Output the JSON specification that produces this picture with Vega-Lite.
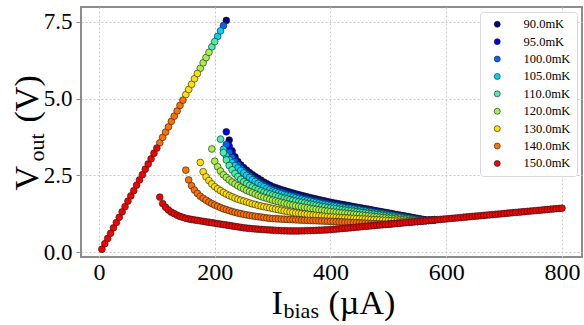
{
"$schema":"https://vega.github.io/schema/vega-lite/v6.json",
"width":501,"height":250,
"autosize":{"type":"none"},
"padding":{"left":81,"top":7,"right":2,"bottom":68},
"background":"white",
"config":{
"view":{"stroke":"#8c8c8c","strokeWidth":2},
"axis":{"labelFont":"Liberation Serif","titleFont":"Liberation Serif","labelColor":"black","titleColor":"black","titleFontWeight":"normal"},
"legend":{"orient":"top-right","offset":5,"padding":6,"symbolOffset":5,"labelOffset":20,"labelFont":"Liberation Serif","labelFontSize":12.5,"labelColor":"black","symbolSize":36,"symbolStrokeWidth":0.6,"symbolStrokeColor":"#1a1a1a","symbolType":"circle","rowPadding":4.4,"strokeColor":"#d9d9d9","fillColor":"white","cornerRadius":3}
},
"data":{"values":[
{"t":90,"i":220,"v":7.55},{"t":90,"i":225,"v":3.65},{"t":90,"i":230,"v":3.30},{"t":90,"i":235,"v":3.10},{"t":90,"i":240,"v":2.95},{"t":90,"i":245,"v":2.84},{"t":90,"i":250,"v":2.75},{"t":90,"i":255,"v":2.67},{"t":90,"i":260,"v":2.59},{"t":90,"i":265,"v":2.52},{"t":90,"i":270,"v":2.46},{"t":90,"i":275,"v":2.40},{"t":90,"i":280,"v":2.34},{"t":90,"i":285,"v":2.28},{"t":90,"i":290,"v":2.23},{"t":90,"i":295,"v":2.18},{"t":90,"i":300,"v":2.13},{"t":90,"i":305,"v":2.098},{"t":90,"i":310,"v":2.067},{"t":90,"i":315,"v":2.035},{"t":90,"i":320,"v":2.005},{"t":90,"i":325,"v":1.976},{"t":90,"i":330,"v":1.948},{"t":90,"i":335,"v":1.92},{"t":90,"i":340,"v":1.894},{"t":90,"i":345,"v":1.869},{"t":90,"i":350,"v":1.845},{"t":90,"i":355,"v":1.82},{"t":90,"i":360,"v":1.797},{"t":90,"i":365,"v":1.774},{"t":90,"i":370,"v":1.752},{"t":90,"i":375,"v":1.729},{"t":90,"i":380,"v":1.707},{"t":90,"i":385,"v":1.685},{"t":90,"i":390,"v":1.663},{"t":90,"i":395,"v":1.641},{"t":90,"i":400,"v":1.622},{"t":90,"i":405,"v":1.605},{"t":90,"i":410,"v":1.588},{"t":90,"i":415,"v":1.569},{"t":90,"i":420,"v":1.552},{"t":90,"i":425,"v":1.535},{"t":90,"i":430,"v":1.518},{"t":90,"i":435,"v":1.499},{"t":90,"i":440,"v":1.482},{"t":90,"i":445,"v":1.465},{"t":90,"i":450,"v":1.448},{"t":90,"i":455,"v":1.429},{"t":90,"i":460,"v":1.412},{"t":90,"i":465,"v":1.395},{"t":90,"i":470,"v":1.378},{"t":90,"i":475,"v":1.36},{"t":90,"i":480,"v":1.342},{"t":90,"i":485,"v":1.325},{"t":90,"i":490,"v":1.308},{"t":90,"i":495,"v":1.29},{"t":90,"i":500,"v":1.272},{"t":90,"i":505,"v":1.255},{"t":90,"i":510,"v":1.238},{"t":90,"i":515,"v":1.22},{"t":90,"i":520,"v":1.202},{"t":90,"i":525,"v":1.185},{"t":90,"i":530,"v":1.168},{"t":90,"i":535,"v":1.15},{"t":90,"i":540,"v":1.132},{"t":90,"i":545,"v":1.115},{"t":90,"i":550,"v":1.098},{"t":90,"i":555,"v":1.08},{"t":90,"i":560,"v":1.062},{"t":90,"i":565,"v":1.045},{"t":90,"i":570,"v":1.033},{"t":90,"i":575,"v":1.041},{"t":90,"i":580,"v":1.05},
{"t":95,"i":220,"v":3.92},{"t":95,"i":225,"v":3.45},{"t":95,"i":230,"v":3.20},{"t":95,"i":235,"v":3.03},{"t":95,"i":240,"v":2.90},{"t":95,"i":245,"v":2.79},{"t":95,"i":250,"v":2.70},{"t":95,"i":255,"v":2.62},{"t":95,"i":260,"v":2.54},{"t":95,"i":265,"v":2.47},{"t":95,"i":270,"v":2.40},{"t":95,"i":275,"v":2.34},{"t":95,"i":280,"v":2.28},{"t":95,"i":285,"v":2.23},{"t":95,"i":290,"v":2.18},{"t":95,"i":295,"v":2.13},{"t":95,"i":300,"v":2.09},{"t":95,"i":305,"v":2.058},{"t":95,"i":310,"v":2.028},{"t":95,"i":315,"v":1.997},{"t":95,"i":320,"v":1.967},{"t":95,"i":325,"v":1.939},{"t":95,"i":330,"v":1.911},{"t":95,"i":335,"v":1.884},{"t":95,"i":340,"v":1.859},{"t":95,"i":345,"v":1.834},{"t":95,"i":350,"v":1.81},{"t":95,"i":355,"v":1.786},{"t":95,"i":360,"v":1.764},{"t":95,"i":365,"v":1.741},{"t":95,"i":370,"v":1.719},{"t":95,"i":375,"v":1.698},{"t":95,"i":380,"v":1.676},{"t":95,"i":385,"v":1.654},{"t":95,"i":390,"v":1.633},{"t":95,"i":395,"v":1.612},{"t":95,"i":400,"v":1.593},{"t":95,"i":405,"v":1.577},{"t":95,"i":410,"v":1.56},{"t":95,"i":415,"v":1.542},{"t":95,"i":420,"v":1.525},{"t":95,"i":425,"v":1.509},{"t":95,"i":430,"v":1.492},{"t":95,"i":435,"v":1.474},{"t":95,"i":440,"v":1.458},{"t":95,"i":445,"v":1.441},{"t":95,"i":450,"v":1.424},{"t":95,"i":455,"v":1.407},{"t":95,"i":460,"v":1.39},{"t":95,"i":465,"v":1.373},{"t":95,"i":470,"v":1.357},{"t":95,"i":475,"v":1.339},{"t":95,"i":480,"v":1.322},{"t":95,"i":485,"v":1.306},{"t":95,"i":490,"v":1.289},{"t":95,"i":495,"v":1.271},{"t":95,"i":500,"v":1.254},{"t":95,"i":505,"v":1.238},{"t":95,"i":510,"v":1.221},{"t":95,"i":515,"v":1.203},{"t":95,"i":520,"v":1.187},{"t":95,"i":525,"v":1.17},{"t":95,"i":530,"v":1.153},{"t":95,"i":535,"v":1.136},{"t":95,"i":540,"v":1.119},{"t":95,"i":545,"v":1.102},{"t":95,"i":550,"v":1.086},{"t":95,"i":555,"v":1.068},{"t":95,"i":560,"v":1.051},{"t":95,"i":565,"v":1.034},{"t":95,"i":570,"v":1.036},{"t":95,"i":575,"v":1.043},{"t":95,"i":580,"v":1.052},
{"t":100,"i":215,"v":7.38},{"t":100,"i":220,"v":3.50},{"t":100,"i":225,"v":3.25},{"t":100,"i":230,"v":3.08},{"t":100,"i":235,"v":2.95},{"t":100,"i":240,"v":2.84},{"t":100,"i":245,"v":2.73},{"t":100,"i":250,"v":2.64},{"t":100,"i":255,"v":2.56},{"t":100,"i":260,"v":2.49},{"t":100,"i":265,"v":2.42},{"t":100,"i":270,"v":2.35},{"t":100,"i":275,"v":2.29},{"t":100,"i":280,"v":2.23},{"t":100,"i":285,"v":2.18},{"t":100,"i":290,"v":2.13},{"t":100,"i":295,"v":2.08},{"t":100,"i":300,"v":2.04},{"t":100,"i":305,"v":2.009},{"t":100,"i":310,"v":1.979},{"t":100,"i":315,"v":1.949},{"t":100,"i":320,"v":1.92},{"t":100,"i":325,"v":1.892},{"t":100,"i":330,"v":1.865},{"t":100,"i":335,"v":1.839},{"t":100,"i":340,"v":1.814},{"t":100,"i":345,"v":1.79},{"t":100,"i":350,"v":1.767},{"t":100,"i":355,"v":1.744},{"t":100,"i":360,"v":1.722},{"t":100,"i":365,"v":1.70},{"t":100,"i":370,"v":1.678},{"t":100,"i":375,"v":1.657},{"t":100,"i":380,"v":1.636},{"t":100,"i":385,"v":1.615},{"t":100,"i":390,"v":1.594},{"t":100,"i":395,"v":1.574},{"t":100,"i":400,"v":1.556},{"t":100,"i":405,"v":1.54},{"t":100,"i":410,"v":1.524},{"t":100,"i":415,"v":1.507},{"t":100,"i":420,"v":1.491},{"t":100,"i":425,"v":1.475},{"t":100,"i":430,"v":1.459},{"t":100,"i":435,"v":1.442},{"t":100,"i":440,"v":1.426},{"t":100,"i":445,"v":1.41},{"t":100,"i":450,"v":1.394},{"t":100,"i":455,"v":1.377},{"t":100,"i":460,"v":1.361},{"t":100,"i":465,"v":1.345},{"t":100,"i":470,"v":1.329},{"t":100,"i":475,"v":1.312},{"t":100,"i":480,"v":1.296},{"t":100,"i":485,"v":1.28},{"t":100,"i":490,"v":1.264},{"t":100,"i":495,"v":1.247},{"t":100,"i":500,"v":1.23},{"t":100,"i":505,"v":1.214},{"t":100,"i":510,"v":1.198},{"t":100,"i":515,"v":1.181},{"t":100,"i":520,"v":1.165},{"t":100,"i":525,"v":1.149},{"t":100,"i":530,"v":1.133},{"t":100,"i":535,"v":1.116},{"t":100,"i":540,"v":1.10},{"t":100,"i":545,"v":1.084},{"t":100,"i":550,"v":1.068},{"t":100,"i":555,"v":1.051},{"t":100,"i":560,"v":1.035},{"t":100,"i":565,"v":1.025},{"t":100,"i":570,"v":1.034},{"t":100,"i":575,"v":1.042},{"t":100,"i":580,"v":1.051},
{"t":105,"i":205,"v":7.03},{"t":105,"i":210,"v":7.21},{"t":105,"i":215,"v":3.35},{"t":105,"i":220,"v":3.14},{"t":105,"i":225,"v":3.01},{"t":105,"i":230,"v":2.91},{"t":105,"i":235,"v":2.82},{"t":105,"i":240,"v":2.74},{"t":105,"i":245,"v":2.66},{"t":105,"i":250,"v":2.58},{"t":105,"i":255,"v":2.50},{"t":105,"i":260,"v":2.43},{"t":105,"i":265,"v":2.36},{"t":105,"i":270,"v":2.30},{"t":105,"i":275,"v":2.24},{"t":105,"i":280,"v":2.18},{"t":105,"i":285,"v":2.13},{"t":105,"i":290,"v":2.08},{"t":105,"i":295,"v":2.03},{"t":105,"i":300,"v":1.99},{"t":105,"i":305,"v":1.96},{"t":105,"i":310,"v":1.93},{"t":105,"i":315,"v":1.901},{"t":105,"i":320,"v":1.873},{"t":105,"i":325,"v":1.845},{"t":105,"i":330,"v":1.819},{"t":105,"i":335,"v":1.793},{"t":105,"i":340,"v":1.769},{"t":105,"i":345,"v":1.746},{"t":105,"i":350,"v":1.723},{"t":105,"i":355,"v":1.701},{"t":105,"i":360,"v":1.68},{"t":105,"i":365,"v":1.658},{"t":105,"i":370,"v":1.638},{"t":105,"i":375,"v":1.617},{"t":105,"i":380,"v":1.597},{"t":105,"i":385,"v":1.577},{"t":105,"i":390,"v":1.556},{"t":105,"i":395,"v":1.537},{"t":105,"i":400,"v":1.52},{"t":105,"i":405,"v":1.504},{"t":105,"i":410,"v":1.489},{"t":105,"i":415,"v":1.472},{"t":105,"i":420,"v":1.457},{"t":105,"i":425,"v":1.442},{"t":105,"i":430,"v":1.426},{"t":105,"i":435,"v":1.41},{"t":105,"i":440,"v":1.395},{"t":105,"i":445,"v":1.379},{"t":105,"i":450,"v":1.364},{"t":105,"i":455,"v":1.347},{"t":105,"i":460,"v":1.332},{"t":105,"i":465,"v":1.317},{"t":105,"i":470,"v":1.301},{"t":105,"i":475,"v":1.285},{"t":105,"i":480,"v":1.27},{"t":105,"i":485,"v":1.254},{"t":105,"i":490,"v":1.239},{"t":105,"i":495,"v":1.222},{"t":105,"i":500,"v":1.207},{"t":105,"i":505,"v":1.192},{"t":105,"i":510,"v":1.176},{"t":105,"i":515,"v":1.16},{"t":105,"i":520,"v":1.145},{"t":105,"i":525,"v":1.129},{"t":105,"i":530,"v":1.114},{"t":105,"i":535,"v":1.097},{"t":105,"i":540,"v":1.082},{"t":105,"i":545,"v":1.067},{"t":105,"i":550,"v":1.051},{"t":105,"i":555,"v":1.035},{"t":105,"i":560,"v":1.02},{"t":105,"i":565,"v":1.025},{"t":105,"i":570,"v":1.033},{"t":105,"i":575,"v":1.041},{"t":105,"i":580,"v":1.05},
{"t":110,"i":195,"v":6.69},{"t":110,"i":200,"v":6.86},{"t":110,"i":210,"v":3.68},{"t":110,"i":215,"v":3.24},{"t":110,"i":220,"v":3.00},{"t":110,"i":225,"v":2.82},{"t":110,"i":230,"v":2.68},{"t":110,"i":235,"v":2.56},{"t":110,"i":240,"v":2.46},{"t":110,"i":245,"v":2.37},{"t":110,"i":250,"v":2.29},{"t":110,"i":255,"v":2.23},{"t":110,"i":260,"v":2.17},{"t":110,"i":265,"v":2.12},{"t":110,"i":270,"v":2.07},{"t":110,"i":275,"v":2.03},{"t":110,"i":280,"v":1.99},{"t":110,"i":285,"v":1.95},{"t":110,"i":290,"v":1.92},{"t":110,"i":295,"v":1.89},{"t":110,"i":300,"v":1.86},{"t":110,"i":305,"v":1.832},{"t":110,"i":310,"v":1.805},{"t":110,"i":315,"v":1.777},{"t":110,"i":320,"v":1.751},{"t":110,"i":325,"v":1.726},{"t":110,"i":330,"v":1.702},{"t":110,"i":335,"v":1.678},{"t":110,"i":340,"v":1.656},{"t":110,"i":345,"v":1.635},{"t":110,"i":350,"v":1.615},{"t":110,"i":355,"v":1.594},{"t":110,"i":360,"v":1.575},{"t":110,"i":365,"v":1.556},{"t":110,"i":370,"v":1.538},{"t":110,"i":375,"v":1.52},{"t":110,"i":380,"v":1.501},{"t":110,"i":385,"v":1.483},{"t":110,"i":390,"v":1.465},{"t":110,"i":395,"v":1.448},{"t":110,"i":400,"v":1.432},{"t":110,"i":405,"v":1.419},{"t":110,"i":410,"v":1.406},{"t":110,"i":415,"v":1.392},{"t":110,"i":420,"v":1.378},{"t":110,"i":425,"v":1.365},{"t":110,"i":430,"v":1.352},{"t":110,"i":435,"v":1.338},{"t":110,"i":440,"v":1.325},{"t":110,"i":445,"v":1.311},{"t":110,"i":450,"v":1.298},{"t":110,"i":455,"v":1.284},{"t":110,"i":460,"v":1.271},{"t":110,"i":465,"v":1.257},{"t":110,"i":470,"v":1.244},{"t":110,"i":475,"v":1.23},{"t":110,"i":480,"v":1.217},{"t":110,"i":485,"v":1.203},{"t":110,"i":490,"v":1.19},{"t":110,"i":495,"v":1.176},{"t":110,"i":500,"v":1.163},{"t":110,"i":505,"v":1.15},{"t":110,"i":510,"v":1.136},{"t":110,"i":515,"v":1.122},{"t":110,"i":520,"v":1.109},{"t":110,"i":525,"v":1.096},{"t":110,"i":530,"v":1.082},{"t":110,"i":535,"v":1.068},{"t":110,"i":540,"v":1.055},{"t":110,"i":545,"v":1.042},{"t":110,"i":550,"v":1.028},{"t":110,"i":555,"v":1.014},{"t":110,"i":560,"v":1.016},{"t":110,"i":565,"v":1.025},{"t":110,"i":570,"v":1.033},{"t":110,"i":575,"v":1.041},
{"t":120,"i":175,"v":5.99},{"t":120,"i":180,"v":6.17},{"t":120,"i":185,"v":6.34},{"t":120,"i":190,"v":6.51},{"t":120,"i":195,"v":3.36},{"t":120,"i":200,"v":2.96},{"t":120,"i":205,"v":2.78},{"t":120,"i":210,"v":2.64},{"t":120,"i":215,"v":2.52},{"t":120,"i":220,"v":2.43},{"t":120,"i":225,"v":2.35},{"t":120,"i":230,"v":2.28},{"t":120,"i":235,"v":2.22},{"t":120,"i":240,"v":2.16},{"t":120,"i":245,"v":2.11},{"t":120,"i":250,"v":2.06},{"t":120,"i":255,"v":2.01},{"t":120,"i":260,"v":1.97},{"t":120,"i":265,"v":1.93},{"t":120,"i":270,"v":1.89},{"t":120,"i":275,"v":1.85},{"t":120,"i":280,"v":1.81},{"t":120,"i":285,"v":1.78},{"t":120,"i":290,"v":1.75},{"t":120,"i":295,"v":1.72},{"t":120,"i":300,"v":1.69},{"t":120,"i":305,"v":1.664},{"t":120,"i":310,"v":1.64},{"t":120,"i":315,"v":1.615},{"t":120,"i":320,"v":1.592},{"t":120,"i":325,"v":1.569},{"t":120,"i":330,"v":1.548},{"t":120,"i":335,"v":1.527},{"t":120,"i":340,"v":1.508},{"t":120,"i":345,"v":1.489},{"t":120,"i":350,"v":1.472},{"t":120,"i":355,"v":1.454},{"t":120,"i":360,"v":1.438},{"t":120,"i":365,"v":1.421},{"t":120,"i":370,"v":1.405},{"t":120,"i":375,"v":1.39},{"t":120,"i":380,"v":1.374},{"t":120,"i":385,"v":1.359},{"t":120,"i":390,"v":1.343},{"t":120,"i":395,"v":1.329},{"t":120,"i":400,"v":1.316},{"t":120,"i":405,"v":1.306},{"t":120,"i":410,"v":1.295},{"t":120,"i":415,"v":1.284},{"t":120,"i":420,"v":1.273},{"t":120,"i":425,"v":1.263},{"t":120,"i":430,"v":1.252},{"t":120,"i":435,"v":1.24},{"t":120,"i":440,"v":1.23},{"t":120,"i":445,"v":1.219},{"t":120,"i":450,"v":1.209},{"t":120,"i":455,"v":1.197},{"t":120,"i":460,"v":1.187},{"t":120,"i":465,"v":1.176},{"t":120,"i":470,"v":1.166},{"t":120,"i":475,"v":1.154},{"t":120,"i":480,"v":1.144},{"t":120,"i":485,"v":1.133},{"t":120,"i":490,"v":1.122},{"t":120,"i":495,"v":1.111},{"t":120,"i":500,"v":1.10},{"t":120,"i":505,"v":1.09},{"t":120,"i":510,"v":1.079},{"t":120,"i":515,"v":1.068},{"t":120,"i":520,"v":1.057},{"t":120,"i":525,"v":1.047},{"t":120,"i":530,"v":1.036},{"t":120,"i":535,"v":1.025},{"t":120,"i":540,"v":1.014},{"t":120,"i":545,"v":1.004},{"t":120,"i":550,"v":0.998},{"t":120,"i":555,"v":1.006},{"t":120,"i":560,"v":1.015},
{"t":130,"i":150,"v":5.13},{"t":130,"i":155,"v":5.30},{"t":130,"i":160,"v":5.47},{"t":130,"i":165,"v":5.65},{"t":130,"i":170,"v":5.82},{"t":130,"i":175,"v":2.92},{"t":130,"i":180,"v":2.62},{"t":130,"i":185,"v":2.45},{"t":130,"i":190,"v":2.33},{"t":130,"i":195,"v":2.22},{"t":130,"i":200,"v":2.13},{"t":130,"i":205,"v":2.06},{"t":130,"i":210,"v":2.00},{"t":130,"i":215,"v":1.94},{"t":130,"i":220,"v":1.89},{"t":130,"i":225,"v":1.84},{"t":130,"i":230,"v":1.80},{"t":130,"i":235,"v":1.76},{"t":130,"i":240,"v":1.72},{"t":130,"i":245,"v":1.69},{"t":130,"i":250,"v":1.66},{"t":130,"i":255,"v":1.63},{"t":130,"i":260,"v":1.60},{"t":130,"i":265,"v":1.57},{"t":130,"i":270,"v":1.55},{"t":130,"i":275,"v":1.52},{"t":130,"i":280,"v":1.50},{"t":130,"i":285,"v":1.48},{"t":130,"i":290,"v":1.46},{"t":130,"i":295,"v":1.44},{"t":130,"i":300,"v":1.42},{"t":130,"i":305,"v":1.399},{"t":130,"i":310,"v":1.38},{"t":130,"i":315,"v":1.36},{"t":130,"i":320,"v":1.341},{"t":130,"i":325,"v":1.323},{"t":130,"i":330,"v":1.307},{"t":130,"i":335,"v":1.291},{"t":130,"i":340,"v":1.276},{"t":130,"i":345,"v":1.262},{"t":130,"i":350,"v":1.25},{"t":130,"i":355,"v":1.237},{"t":130,"i":360,"v":1.225},{"t":130,"i":365,"v":1.214},{"t":130,"i":370,"v":1.203},{"t":130,"i":375,"v":1.192},{"t":130,"i":380,"v":1.181},{"t":130,"i":385,"v":1.171},{"t":130,"i":390,"v":1.16},{"t":130,"i":395,"v":1.15},{"t":130,"i":400,"v":1.142},{"t":130,"i":405,"v":1.137},{"t":130,"i":410,"v":1.131},{"t":130,"i":415,"v":1.124},{"t":130,"i":420,"v":1.118},{"t":130,"i":425,"v":1.113},{"t":130,"i":430,"v":1.107},{"t":130,"i":435,"v":1.10},{"t":130,"i":440,"v":1.095},{"t":130,"i":445,"v":1.089},{"t":130,"i":450,"v":1.083},{"t":130,"i":455,"v":1.076},{"t":130,"i":460,"v":1.071},{"t":130,"i":465,"v":1.065},{"t":130,"i":470,"v":1.059},{"t":130,"i":475,"v":1.052},{"t":130,"i":480,"v":1.047},{"t":130,"i":485,"v":1.041},{"t":130,"i":490,"v":1.035},{"t":130,"i":495,"v":1.029},{"t":130,"i":500,"v":1.023},{"t":130,"i":505,"v":1.017},{"t":130,"i":510,"v":1.011},{"t":130,"i":515,"v":1.005},{"t":130,"i":520,"v":0.999},{"t":130,"i":525,"v":0.993},{"t":130,"i":530,"v":0.987},{"t":130,"i":535,"v":0.981},{"t":130,"i":540,"v":0.98},{"t":130,"i":545,"v":0.989},{"t":130,"i":550,"v":0.998},
{"t":140,"i":105,"v":3.56},{"t":140,"i":110,"v":3.74},{"t":140,"i":115,"v":3.91},{"t":140,"i":120,"v":4.08},{"t":140,"i":125,"v":4.26},{"t":140,"i":130,"v":4.43},{"t":140,"i":135,"v":4.60},{"t":140,"i":140,"v":4.78},{"t":140,"i":145,"v":4.95},{"t":140,"i":150,"v":2.67},{"t":140,"i":155,"v":2.35},{"t":140,"i":160,"v":2.16},{"t":140,"i":165,"v":2.02},{"t":140,"i":170,"v":1.91},{"t":140,"i":175,"v":1.82},{"t":140,"i":180,"v":1.75},{"t":140,"i":185,"v":1.69},{"t":140,"i":190,"v":1.63},{"t":140,"i":195,"v":1.58},{"t":140,"i":200,"v":1.53},{"t":140,"i":205,"v":1.49},{"t":140,"i":210,"v":1.45},{"t":140,"i":215,"v":1.41},{"t":140,"i":220,"v":1.38},{"t":140,"i":225,"v":1.35},{"t":140,"i":230,"v":1.32},{"t":140,"i":235,"v":1.295},{"t":140,"i":240,"v":1.27},{"t":140,"i":245,"v":1.25},{"t":140,"i":250,"v":1.23},{"t":140,"i":255,"v":1.21},{"t":140,"i":260,"v":1.195},{"t":140,"i":265,"v":1.18},{"t":140,"i":270,"v":1.165},{"t":140,"i":275,"v":1.15},{"t":140,"i":280,"v":1.14},{"t":140,"i":285,"v":1.125},{"t":140,"i":290,"v":1.11},{"t":140,"i":295,"v":1.10},{"t":140,"i":300,"v":1.09},{"t":140,"i":305,"v":1.085},{"t":140,"i":310,"v":1.08},{"t":140,"i":315,"v":1.075},{"t":140,"i":320,"v":1.07},{"t":140,"i":325,"v":1.065},{"t":140,"i":330,"v":1.06},{"t":140,"i":335,"v":1.055},{"t":140,"i":340,"v":1.05},{"t":140,"i":345,"v":1.045},{"t":140,"i":350,"v":1.04},{"t":140,"i":355,"v":1.036},{"t":140,"i":360,"v":1.032},{"t":140,"i":365,"v":1.028},{"t":140,"i":370,"v":1.024},{"t":140,"i":375,"v":1.02},{"t":140,"i":380,"v":1.016},{"t":140,"i":385,"v":1.012},{"t":140,"i":390,"v":1.008},{"t":140,"i":395,"v":1.004},{"t":140,"i":400,"v":1.00},{"t":140,"i":405,"v":0.995},{"t":140,"i":410,"v":0.99},{"t":140,"i":415,"v":0.985},{"t":140,"i":420,"v":0.98},{"t":140,"i":425,"v":0.975},{"t":140,"i":430,"v":0.97},{"t":140,"i":435,"v":0.965},{"t":140,"i":440,"v":0.96},{"t":140,"i":445,"v":0.955},{"t":140,"i":450,"v":0.95},{"t":140,"i":455,"v":0.945},{"t":140,"i":460,"v":0.94},{"t":140,"i":465,"v":0.935},{"t":140,"i":470,"v":0.93},{"t":140,"i":475,"v":0.925},{"t":140,"i":480,"v":0.92},{"t":140,"i":485,"v":0.915},{"t":140,"i":490,"v":0.912},{"t":140,"i":495,"v":0.91},{"t":140,"i":500,"v":0.912},{"t":140,"i":505,"v":0.92},{"t":140,"i":510,"v":0.928},{"t":140,"i":515,"v":0.937},{"t":140,"i":520,"v":0.946},
{"t":150,"i":5,"v":0.09},{"t":150,"i":10,"v":0.27},{"t":150,"i":15,"v":0.44},{"t":150,"i":20,"v":0.61},{"t":150,"i":25,"v":0.79},{"t":150,"i":30,"v":0.96},{"t":150,"i":35,"v":1.13},{"t":150,"i":40,"v":1.31},{"t":150,"i":45,"v":1.48},{"t":150,"i":50,"v":1.66},{"t":150,"i":55,"v":1.83},{"t":150,"i":60,"v":2.00},{"t":150,"i":65,"v":2.18},{"t":150,"i":70,"v":2.35},{"t":150,"i":75,"v":2.52},{"t":150,"i":80,"v":2.70},{"t":150,"i":85,"v":2.87},{"t":150,"i":90,"v":3.04},{"t":150,"i":95,"v":3.22},{"t":150,"i":100,"v":3.39},
{"t":150,"i":105,"v":1.79},{"t":150,"i":110,"v":1.58},{"t":150,"i":115,"v":1.46},{"t":150,"i":120,"v":1.37},{"t":150,"i":125,"v":1.30},{"t":150,"i":130,"v":1.25},{"t":150,"i":135,"v":1.20},{"t":150,"i":140,"v":1.16},{"t":150,"i":145,"v":1.13},{"t":150,"i":150,"v":1.10},{"t":150,"i":155,"v":1.08},{"t":150,"i":160,"v":1.06},{"t":150,"i":165,"v":1.045},{"t":150,"i":170,"v":1.03},{"t":150,"i":175,"v":1.015},{"t":150,"i":180,"v":1.00},{"t":150,"i":185,"v":0.985},{"t":150,"i":190,"v":0.97},{"t":150,"i":195,"v":0.955},{"t":150,"i":200,"v":0.94},{"t":150,"i":205,"v":0.925},{"t":150,"i":210,"v":0.91},{"t":150,"i":215,"v":0.895},{"t":150,"i":220,"v":0.88},{"t":150,"i":225,"v":0.865},{"t":150,"i":230,"v":0.85},{"t":150,"i":235,"v":0.835},{"t":150,"i":240,"v":0.82},{"t":150,"i":245,"v":0.805},{"t":150,"i":250,"v":0.79},{"t":150,"i":255,"v":0.78},{"t":150,"i":260,"v":0.77},{"t":150,"i":265,"v":0.76},{"t":150,"i":270,"v":0.752},{"t":150,"i":275,"v":0.745},{"t":150,"i":280,"v":0.738},{"t":150,"i":285,"v":0.731},{"t":150,"i":290,"v":0.725},{"t":150,"i":295,"v":0.719},{"t":150,"i":300,"v":0.713},{"t":150,"i":305,"v":0.707},{"t":150,"i":310,"v":0.702},{"t":150,"i":315,"v":0.697},{"t":150,"i":320,"v":0.693},{"t":150,"i":325,"v":0.69},{"t":150,"i":330,"v":0.688},{"t":150,"i":335,"v":0.687},{"t":150,"i":340,"v":0.687},{"t":150,"i":345,"v":0.688},{"t":150,"i":350,"v":0.69},{"t":150,"i":355,"v":0.692},{"t":150,"i":360,"v":0.695},{"t":150,"i":365,"v":0.698},{"t":150,"i":370,"v":0.702},{"t":150,"i":375,"v":0.706},{"t":150,"i":380,"v":0.71},{"t":150,"i":385,"v":0.714},{"t":150,"i":390,"v":0.718},{"t":150,"i":395,"v":0.723},{"t":150,"i":400,"v":0.73},{"t":150,"i":405,"v":0.739},{"t":150,"i":410,"v":0.748},{"t":150,"i":415,"v":0.756},{"t":150,"i":420,"v":0.765},{"t":150,"i":425,"v":0.774},{"t":150,"i":430,"v":0.783},{"t":150,"i":435,"v":0.791},{"t":150,"i":440,"v":0.80},{"t":150,"i":445,"v":0.809},{"t":150,"i":450,"v":0.818},{"t":150,"i":455,"v":0.826},{"t":150,"i":460,"v":0.835},{"t":150,"i":465,"v":0.844},{"t":150,"i":470,"v":0.853},{"t":150,"i":475,"v":0.861},{"t":150,"i":480,"v":0.87},{"t":150,"i":485,"v":0.879},{"t":150,"i":490,"v":0.888},{"t":150,"i":495,"v":0.896},{"t":150,"i":500,"v":0.905},{"t":150,"i":505,"v":0.914},{"t":150,"i":510,"v":0.923},{"t":150,"i":515,"v":0.931},{"t":150,"i":520,"v":0.94},{"t":150,"i":525,"v":0.949},{"t":150,"i":530,"v":0.958},{"t":150,"i":535,"v":0.966},{"t":150,"i":540,"v":0.975},{"t":150,"i":545,"v":0.984},{"t":150,"i":550,"v":0.993},{"t":150,"i":555,"v":1.001},{"t":150,"i":560,"v":1.01},{"t":150,"i":565,"v":1.019},{"t":150,"i":570,"v":1.028},{"t":150,"i":575,"v":1.036},{"t":150,"i":580,"v":1.045},{"t":150,"i":585,"v":1.054},{"t":150,"i":590,"v":1.063},{"t":150,"i":595,"v":1.071},{"t":150,"i":600,"v":1.08},{"t":150,"i":605,"v":1.089},{"t":150,"i":610,"v":1.098},{"t":150,"i":615,"v":1.106},{"t":150,"i":620,"v":1.115},{"t":150,"i":625,"v":1.124},{"t":150,"i":630,"v":1.133},{"t":150,"i":635,"v":1.141},{"t":150,"i":640,"v":1.15},{"t":150,"i":645,"v":1.159},{"t":150,"i":650,"v":1.168},{"t":150,"i":655,"v":1.176},{"t":150,"i":660,"v":1.185},{"t":150,"i":665,"v":1.194},{"t":150,"i":670,"v":1.203},{"t":150,"i":675,"v":1.211},{"t":150,"i":680,"v":1.22},{"t":150,"i":685,"v":1.229},{"t":150,"i":690,"v":1.238},{"t":150,"i":695,"v":1.246},{"t":150,"i":700,"v":1.255},{"t":150,"i":705,"v":1.264},{"t":150,"i":710,"v":1.273},{"t":150,"i":715,"v":1.281},{"t":150,"i":720,"v":1.29},{"t":150,"i":725,"v":1.299},{"t":150,"i":730,"v":1.308},{"t":150,"i":735,"v":1.316},{"t":150,"i":740,"v":1.325},{"t":150,"i":745,"v":1.334},{"t":150,"i":750,"v":1.343},{"t":150,"i":755,"v":1.351},{"t":150,"i":760,"v":1.36},{"t":150,"i":765,"v":1.369},{"t":150,"i":770,"v":1.378},{"t":150,"i":775,"v":1.386},{"t":150,"i":780,"v":1.395},{"t":150,"i":785,"v":1.404},{"t":150,"i":790,"v":1.413},{"t":150,"i":795,"v":1.421},{"t":150,"i":800,"v":1.43}
]},
"layer":[
{
"mark":{"type":"circle","size":46,"opacity":1,"stroke":"#1a1a1a","strokeWidth":0.6},
"encoding":{
"x":{"field":"i","type":"quantitative","scale":{"domain":[-31.1,834.6],"nice":false,"zero":false},
"axis":{"orient":"bottom","values":[0,200,400,600,800],"format":"d","labelFontSize":24,"labelPadding":3,"ticks":false,"domain":false,"grid":true,"gridColor":"#c8c8c8","gridDash":[2,2],"gridWidth":1,"labelFlush":false,"labelOverlap":false,"title":"I","titleFontSize":34,"titleX":190,"titleY":56,"titleAlign":"left","titleBaseline":"alphabetic","titleAngle":0}},
"y":{"field":"v","type":"quantitative","scale":{"domain":[-0.163,7.989],"nice":false,"zero":false},
"axis":{"orient":"left","values":[0,2.5,5,7.5],"format":".1f","labelFontSize":23,"labelPadding":4,"ticks":true,"tickSize":5,"tickColor":"#8c8c8c","domain":false,"grid":true,"gridColor":"#c8c8c8","gridDash":[2,2],"gridWidth":1,"labelFlush":false,"labelOverlap":false,"title":"V","titleFontSize":34,"titleAngle":270,"titleX":-44,"titleY":183,"titleAlign":"left","titleBaseline":"alphabetic"}},
"color":{"field":"t","type":"nominal","scale":{"domain":[90,95,100,105,110,120,130,140,150],"range":["#00007f","#0000f5","#0064ff","#00d2f5","#48f0a8","#a6f04a","#ffe000","#ff7000","#f50000"]},"legend":{"title":null,"labelExpr":"format(datum.value, '.1f') + 'mK'"}}
}
},
{
"transform":[{"filter":"datum.t == 150 && datum.i == 800"}],
"mark":{"type":"circle","opacity":0},
"encoding":{
"x":{"field":"i","type":"quantitative","scale":{"domain":[-31.1,834.6],"nice":false,"zero":false},
"axis":{"orient":"top","labels":false,"ticks":false,"domain":false,"grid":false,"title":"bias","titleFontSize":22,"titleX":202,"titleY":310,"titleAlign":"left","titleBaseline":"alphabetic","titleAngle":0}},
"y":{"field":"v","type":"quantitative","scale":{"domain":[-0.163,7.989],"nice":false,"zero":false},
"axis":{"orient":"right","labels":false,"ticks":false,"domain":false,"grid":false,"title":"out","titleFontSize":22,"titleAngle":270,"titleX":-539,"titleY":154,"titleAlign":"left","titleBaseline":"alphabetic"}}
}
},
{
"transform":[{"filter":"datum.t == 150 && datum.i == 800"}],
"mark":{"type":"circle","opacity":0},
"encoding":{
"x":{"field":"i","type":"quantitative","scale":{"domain":[-31.1,834.6],"nice":false,"zero":false},
"axis":{"orient":"bottom","labels":false,"ticks":false,"domain":false,"grid":false,"title":"(µA)","titleFontSize":34,"titleX":247,"titleY":56,"titleAlign":"left","titleBaseline":"alphabetic","titleAngle":0}},
"y":{"field":"v","type":"quantitative","scale":{"domain":[-0.163,7.989],"nice":false,"zero":false},
"axis":{"orient":"left","labels":false,"ticks":false,"domain":false,"grid":false,"title":"(V)","titleFontSize":34,"titleAngle":270,"titleX":-44,"titleY":115,"titleAlign":"left","titleBaseline":"alphabetic"}}
}
}
],
"resolve":{"axis":{"x":"independent","y":"independent"}}
}
